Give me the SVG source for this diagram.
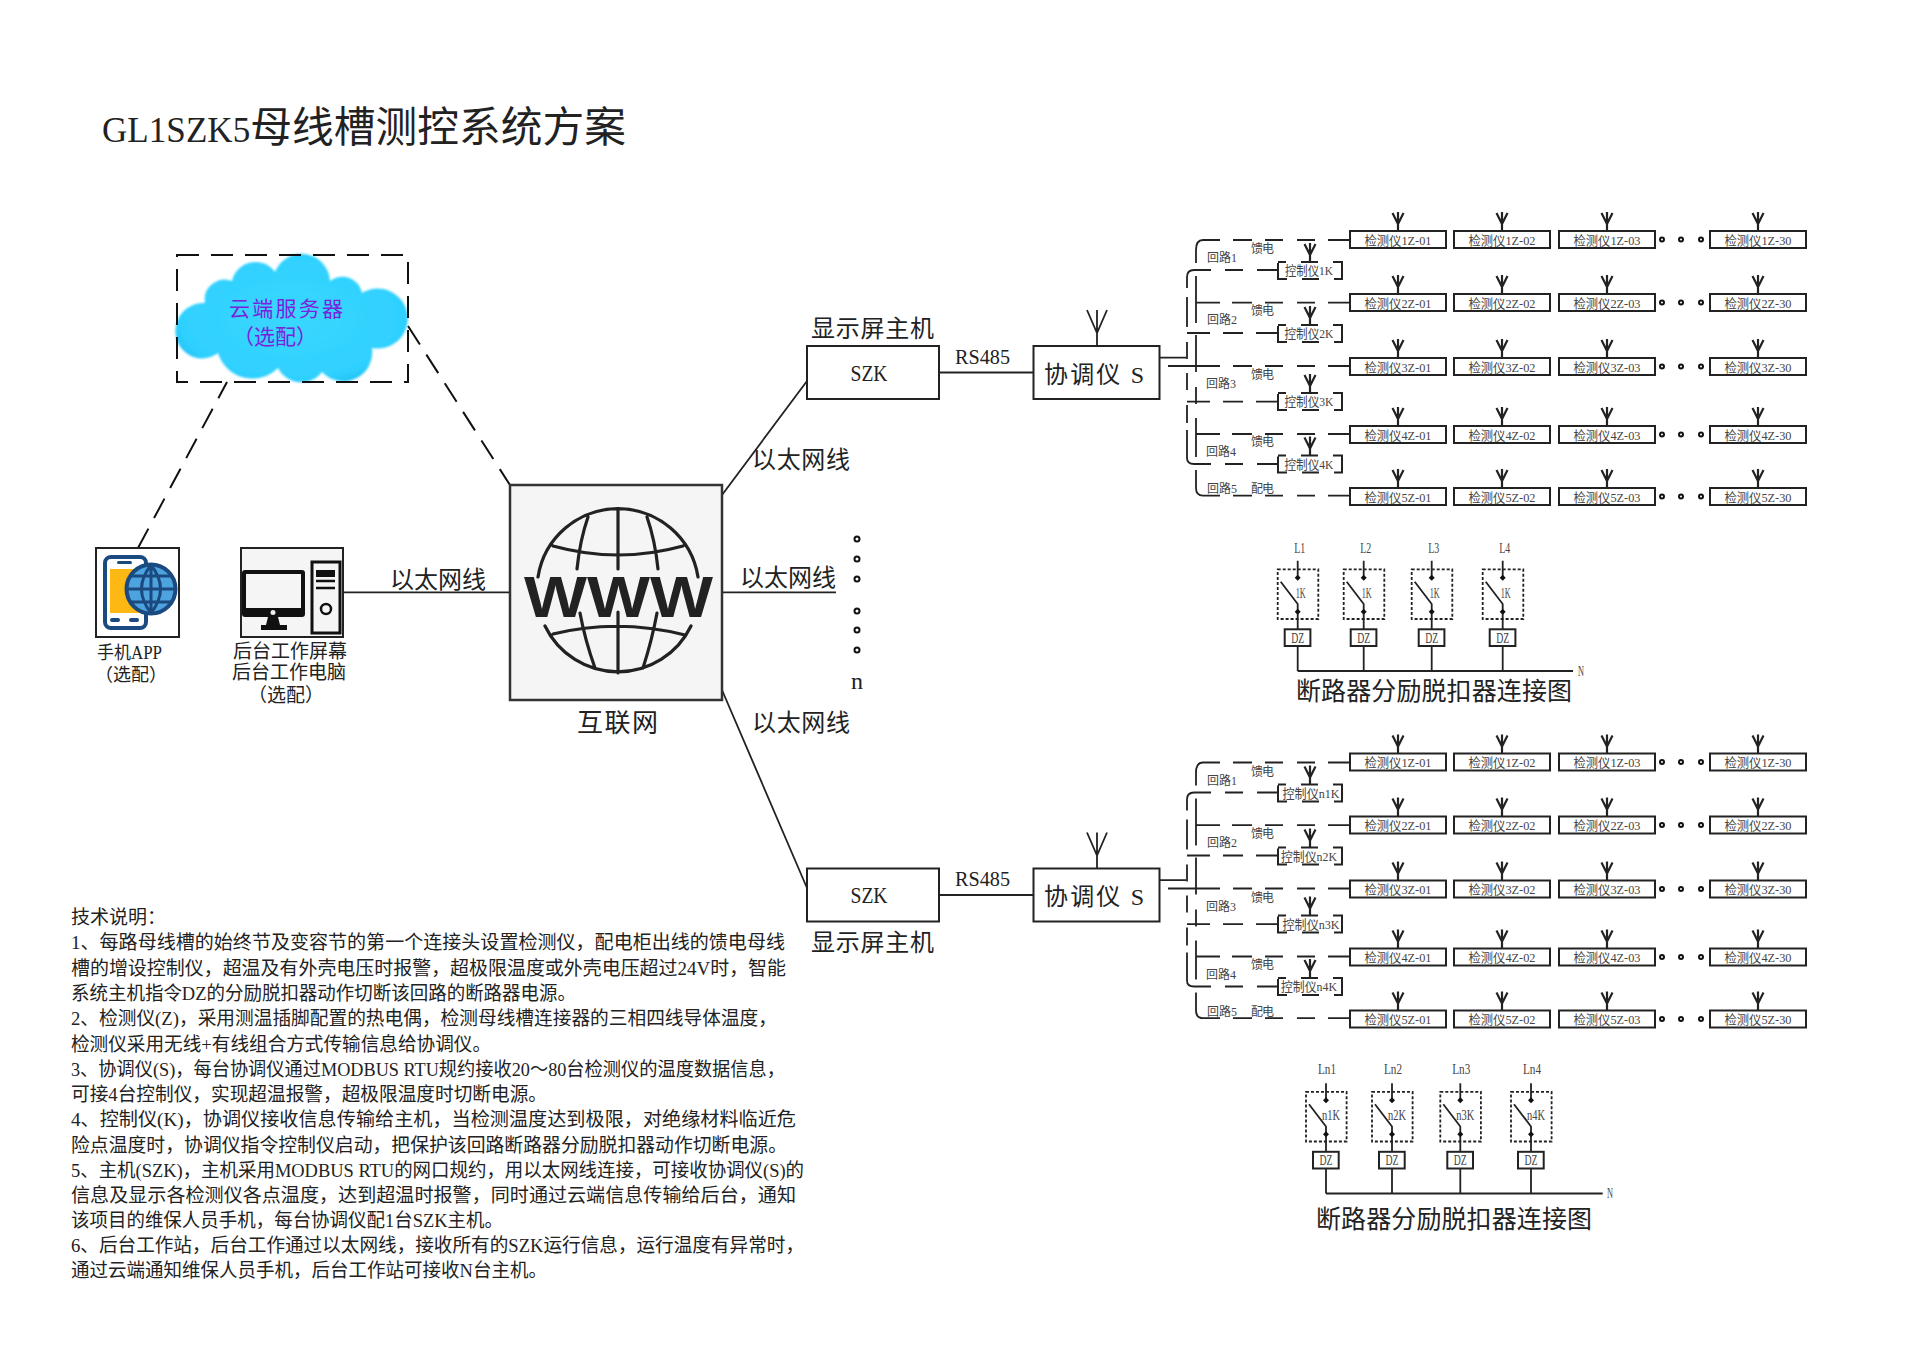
<svg xmlns="http://www.w3.org/2000/svg" width="1920" height="1358" viewBox="0 0 1920 1358">
<style>
text{font-family:"Liberation Serif","Noto Sans CJK SC",serif;fill:#222}
.m{text-anchor:middle}
.box{fill:#fff;stroke:#222;stroke-width:2}
.ln{fill:none;stroke:#222;stroke-width:1.8}
.th{fill:none;stroke:#222;stroke-width:2.2}
.dash{fill:none;stroke:#111;stroke-width:2;stroke-dasharray:22 12}
.d{font-size:13px;fill:#444;text-anchor:middle}
.c{font-size:13px;fill:#444;text-anchor:middle}
.l{font-size:12px;fill:#444}
.big{font-size:24px}
.t{font-size:19px;fill:#222}
.g{fill:none;stroke:#222;stroke-width:3.2;stroke-linecap:round}
.dot{fill:#fff;stroke:#111;stroke-width:2}
.brk{font-size:14px;fill:#444;text-anchor:middle}
.cl{font-size:21px;fill:#7a22e0}
</style>
<defs>
<radialGradient id="cg" cx="50%" cy="50%" r="60%"><stop offset="0" stop-color="#3ad8ff"/><stop offset=".8" stop-color="#2fd0ff"/><stop offset="1" stop-color="#18b8ee"/></radialGradient>
<filter id="soft" x="-5%" y="-5%" width="110%" height="110%"><feGaussianBlur stdDeviation="1"/></filter>
<g id="ant"><path class="th" d="M0 -19V0M-5.500 -18L0 -7L5.500 -18"/></g>
<g id="bigant"><path class="ln" d="M0 -36V0M-10 -36L0 -13L10 -36"/></g>
<g id="det"><use href="#ant" x="48" y="0"/><rect class="box" x="0" y="0" width="96" height="17"/></g>
<g id="ctl"><use href="#ant" x="32" y="0"/><rect x="0" y="0" width="64" height="17" fill="none" stroke="#222" stroke-width="2" stroke-dasharray="8 15 17 15 34 15 17 15 25"/></g>
<g id="dots"><circle class="dot" cx="1662" cy="0" r="2"/><circle class="dot" cx="1681" cy="0" r="2"/><circle class="dot" cx="1701" cy="0" r="2"/></g>
<g id="brk">
<path class="ln" d="M0 0V16M-17 21L0 43.300V68.600M0 85.300V110.300"/>
<rect x="-20" y="8.600" width="40.600" height="49.700" fill="none" stroke="#222" stroke-width="1.800" stroke-dasharray="3 2"/>
<path d="M0 14L3 17L0 20L-3 17ZM0 48L3 51L0 54L-3 51Z" fill="#111"/>
<rect class="box" x="-13" y="68.600" width="25.700" height="16.700"/>
<text class="brk" x="0" y="82" textLength="13" lengthAdjust="spacingAndGlyphs">DZ</text>
</g>
<path id="bus" class="ln" d="M1160 357.700H1186M1168 366H1220M1233 366H1252M1265 366H1283M1297 366H1315M1328 366H1350
M1196 263V250Q1196 240 1203 240H1220M1233 240H1252M1265 240H1283M1297 240H1315M1328 240H1350
M1187 288V277Q1187 270 1194 270H1211M1225 270H1243M1257 270H1278
M1187 297V327M1187 342V359M1187 373V390M1187 405V423M1187 430V458Q1187 464 1194 464H1211M1225 464H1243M1257 464H1278
M1196 276V323M1196 335V372M1196 387V404M1196 418V457M1196 470V488Q1196 495.700 1203 495.700H1220M1233 495.700H1252M1265 495.700H1283M1297 495.700H1315M1328 495.700H1350
M1196 302.700H1220M1232 302.700H1252M1265 302.700H1283M1297 302.700H1315M1328 302.700H1350
M1187 333H1210M1223 333H1243M1256 333H1278
M1187 401.700H1210M1223 401.700H1243M1256 401.700H1278
M1196 434H1220M1232 434H1252M1265 434H1283M1297 434H1315M1328 434H1350"/>
<g id="routes">
<text class="l" x="1207" y="262" textLength="30">回路1</text><text class="l" x="1207" y="324" textLength="30">回路2</text><text class="l" x="1206" y="388" textLength="30">回路3</text><text class="l" x="1206" y="456" textLength="30">回路4</text><text class="l" x="1207" y="493" textLength="30">回路5</text>
<text class="l" x="1251" y="253" textLength="23">馈电</text><text class="l" x="1251" y="315" textLength="23">馈电</text><text class="l" x="1251" y="379" textLength="23">馈电</text><text class="l" x="1251" y="446" textLength="23">馈电</text><text class="l" x="1251" y="493" textLength="23">配电</text>
</g>
</defs>
<rect width="1920" height="1358" fill="#fff"/>
<text id="title" x="102" y="142" font-size="41.700" textLength="524" lengthAdjust="spacing" letter-spacing="0"><tspan style="font-size:35px">GL1SZK5</tspan><tspan>母线槽测控系统方案</tspan></text>

<g id="connectors">
<line class="dash" x1="138" y1="548" x2="227" y2="382"/>
<line class="dash" x1="408" y1="326" x2="510" y2="485"/>
<path class="ln" d="M343 592.300H510M722 592.300H836M722 495L807 381M722 690L807 888M939 372.500H1033M939 895H1033"/>
<use href="#bus"/>
<use href="#bus" y="522.500"/>
<path class="ln" d="M1297.700 671H1573M1326 1193.500H1602.700"/>
</g>

<g id="cloud">
<path d="M185 352A28 28 0 0 1 205 303A20 20 0 0 1 232 281A24 24 0 0 1 275 272A28.500 28.500 0 0 1 330 281A20 20 0 0 1 362 293A30 30 0 1 1 372 348A29 29 0 0 1 322 372A26 26 0 0 1 278 368A36 36 0 0 1 218 353A26 26 0 0 1 185 352Z" fill="url(#cg)" filter="url(#soft)"/>
<rect class="dash" x="177" y="255" width="231" height="127" stroke-dasharray="18 10"/>
<text class="cl" x="229" y="316" textLength="114">云端服务器</text>
<text class="cl m" x="275" y="344">（选配）</text>
</g>

<g id="phone">
<rect class="box" x="96" y="548" width="83" height="89"/>
<rect x="105" y="557" width="41" height="71" rx="6" fill="#fff" stroke="#1a4a80" stroke-width="4"/>
<rect x="110" y="569" width="34" height="44" fill="#fdb813"/>
<rect x="117" y="561" width="15" height="3" rx="1.500" fill="#1a4a80"/>
<rect x="110" y="618" width="10" height="4" rx="2" fill="#1a4a80"/><rect x="129" y="618" width="10" height="4" rx="2" fill="#1a4a80"/>
<circle cx="151" cy="589" r="24.500" fill="#4da3dd" stroke="#1a4a80" stroke-width="4"/>
<path d="M127 589H175M151 565V613M131 576H171M131 602H171M151 565Q132 589 151 613M151 565Q170 589 151 613" fill="none" stroke="#1a4a80" stroke-width="3"/>
<text x="97" y="659" font-size="18" textLength="65" lengthAdjust="spacingAndGlyphs">手机APP</text>
<text class="m" x="131" y="681" font-size="18">（选配）</text>
</g>

<g id="pc">
<rect x="241" y="548" width="102" height="89" fill="#f5f5f5" stroke="#222" stroke-width="2"/>
<rect x="242" y="570" width="63" height="47" rx="3" fill="#111"/>
<rect x="246" y="574" width="55" height="34" fill="#f5f5f5"/>
<circle cx="273" cy="612.500" r="2.500" fill="#eee"/>
<path d="M268 617H278L280 625H287V630H261V625H266Z" fill="#111"/>
<rect x="312" y="562" width="28" height="71" fill="#f5f5f5" stroke="#111" stroke-width="3"/>
<rect x="316" y="570" width="19" height="7" fill="#111"/>
<path d="M316 581H335M316 588H335" stroke="#111" stroke-width="2.500"/>
<circle cx="326" cy="609" r="5" fill="#f5f5f5" stroke="#111" stroke-width="2.500"/>
<text x="233" y="658" font-size="19" textLength="114">后台工作屏幕</text>
<text x="232" y="679" font-size="19" textLength="114">后台工作电脑</text>
<text class="m" x="286" y="702" font-size="19">（选配）</text>
</g>

<g id="internet">
<rect x="510" y="485" width="212" height="215" fill="#f5f5f5" stroke="#333" stroke-width="2.500"/>
<path class="g" d="M538 577A81 81 0 0 1 698 577M545 626A81 81 0 0 0 691 626M553 546Q618 564 683 546M553 634Q618 618 685 635M618 510V569M618 612V673M588 517Q580 540 577 569M647 517Q655 540 658 569M580 613Q585 640 595 668M657 613Q652 640 643 668"/>
<text x="524" y="617" font-size="57" font-weight="bold" textLength="189" lengthAdjust="spacingAndGlyphs" style='font-family:"Liberation Sans",sans-serif;fill:#222'>WWW</text>
<text x="577" y="732" font-size="26" textLength="81">互联网</text>
</g>

<g id="eth-labels">
<text class="big" x="390" y="588" textLength="96">以太网线</text>
<text class="big" x="740" y="586" textLength="96">以太网线</text>
<text class="big" x="752" y="468" textLength="98">以太网线</text>
<text class="big" x="752" y="731" textLength="98">以太网线</text>
</g>
<g id="more">
<circle class="dot" cx="857" cy="539" r="2.500"/><circle class="dot" cx="857" cy="559" r="2.500"/><circle class="dot" cx="857" cy="579" r="2.500"/><circle class="dot" cx="857" cy="611" r="2.500"/><circle class="dot" cx="857" cy="630" r="2.500"/><circle class="dot" cx="857" cy="650" r="2.500"/>
<text class="m" x="857" y="689" font-size="24">n</text>
</g>

<g id="host-a">
<rect class="box" x="807" y="346" width="132" height="53"/>
<text class="m" x="869" y="381" font-size="24" textLength="37" lengthAdjust="spacingAndGlyphs">SZK</text>
<text class="big" x="811" y="337" textLength="123">显示屏主机</text>
<text x="955" y="364" font-size="21" textLength="55" lengthAdjust="spacingAndGlyphs">RS485</text>
</g>
<g id="coord-a">
<use href="#bigant" x="1097" y="346"/>
<rect class="box" x="1033.500" y="346" width="126" height="53"/>
<text x="1044" y="383" font-size="24" textLength="100" xml:space="preserve">协调仪 S</text>
</g>
<g id="host-b">
<rect class="box" x="807" y="868.500" width="132" height="53"/>
<text class="m" x="869" y="903" font-size="24" textLength="37" lengthAdjust="spacingAndGlyphs">SZK</text>
<text class="big" x="811" y="951" textLength="123">显示屏主机</text>
<text x="955" y="886" font-size="21" textLength="55" lengthAdjust="spacingAndGlyphs">RS485</text>
</g>
<g id="coord-b">
<use href="#bigant" x="1097" y="868.500"/>
<rect class="box" x="1033.500" y="868.500" width="126" height="53"/>
<text x="1044" y="905" font-size="24" textLength="100" xml:space="preserve">协调仪 S</text>
</g>

<use href="#routes"/>
<use href="#routes" y="522.500"/>

<g id="dots-a"><use href="#dots" y="239.500"/><use href="#dots" y="302.500"/><use href="#dots" y="366.500"/><use href="#dots" y="434.500"/><use href="#dots" y="496.500"/></g>
<g id="dots-b"><use href="#dots" y="762"/><use href="#dots" y="825"/><use href="#dots" y="889"/><use href="#dots" y="957"/><use href="#dots" y="1019"/></g>

<g id="k1" transform="translate(1278 262)"><use href="#ctl"/><text class="c" x="31" y="13" textLength="48" lengthAdjust="spacingAndGlyphs">控制仪1K</text></g>
<g id="k2" transform="translate(1278 325)"><use href="#ctl"/><text class="c" x="31" y="13" textLength="49" lengthAdjust="spacingAndGlyphs">控制仪2K</text></g>
<g id="k3" transform="translate(1278 393)"><use href="#ctl"/><text class="c" x="31" y="13" textLength="49" lengthAdjust="spacingAndGlyphs">控制仪3K</text></g>
<g id="k4" transform="translate(1278 455.500)"><use href="#ctl"/><text class="c" x="31" y="13" textLength="49" lengthAdjust="spacingAndGlyphs">控制仪4K</text></g>
<g id="kn1" transform="translate(1278 784.500)"><use href="#ctl"/><text class="c" x="33" y="13" textLength="57" lengthAdjust="spacingAndGlyphs">控制仪n1K</text></g>
<g id="kn2" transform="translate(1278 847.500)"><use href="#ctl"/><text class="c" x="31" y="13" textLength="56" lengthAdjust="spacingAndGlyphs">控制仪n2K</text></g>
<g id="kn3" transform="translate(1278 915.500)"><use href="#ctl"/><text class="c" x="33" y="13" textLength="57" lengthAdjust="spacingAndGlyphs">控制仪n3K</text></g>
<g id="kn4" transform="translate(1278 978)"><use href="#ctl"/><text class="c" x="31" y="13" textLength="56" lengthAdjust="spacingAndGlyphs">控制仪n4K</text></g>

<g id="a1z01" transform="translate(1350 231)"><use href="#det"/><text class="d" x="48" y="13.500" textLength="67" lengthAdjust="spacingAndGlyphs">检测仪1Z-01</text></g>
<g id="a1z02" transform="translate(1454 231)"><use href="#det"/><text class="d" x="48" y="13.500" textLength="67" lengthAdjust="spacingAndGlyphs">检测仪1Z-02</text></g>
<g id="a1z03" transform="translate(1559 231)"><use href="#det"/><text class="d" x="48" y="13.500" textLength="67" lengthAdjust="spacingAndGlyphs">检测仪1Z-03</text></g>
<g id="a1z30" transform="translate(1710 231)"><use href="#det"/><text class="d" x="48" y="13.500" textLength="67" lengthAdjust="spacingAndGlyphs">检测仪1Z-30</text></g>
<g id="a2z01" transform="translate(1350 294)"><use href="#det"/><text class="d" x="48" y="13.500" textLength="67" lengthAdjust="spacingAndGlyphs">检测仪2Z-01</text></g>
<g id="a2z02" transform="translate(1454 294)"><use href="#det"/><text class="d" x="48" y="13.500" textLength="67" lengthAdjust="spacingAndGlyphs">检测仪2Z-02</text></g>
<g id="a2z03" transform="translate(1559 294)"><use href="#det"/><text class="d" x="48" y="13.500" textLength="67" lengthAdjust="spacingAndGlyphs">检测仪2Z-03</text></g>
<g id="a2z30" transform="translate(1710 294)"><use href="#det"/><text class="d" x="48" y="13.500" textLength="67" lengthAdjust="spacingAndGlyphs">检测仪2Z-30</text></g>
<g id="a3z01" transform="translate(1350 358)"><use href="#det"/><text class="d" x="48" y="13.500" textLength="67" lengthAdjust="spacingAndGlyphs">检测仪3Z-01</text></g>
<g id="a3z02" transform="translate(1454 358)"><use href="#det"/><text class="d" x="48" y="13.500" textLength="67" lengthAdjust="spacingAndGlyphs">检测仪3Z-02</text></g>
<g id="a3z03" transform="translate(1559 358)"><use href="#det"/><text class="d" x="48" y="13.500" textLength="67" lengthAdjust="spacingAndGlyphs">检测仪3Z-03</text></g>
<g id="a3z30" transform="translate(1710 358)"><use href="#det"/><text class="d" x="48" y="13.500" textLength="67" lengthAdjust="spacingAndGlyphs">检测仪3Z-30</text></g>
<g id="a4z01" transform="translate(1350 426)"><use href="#det"/><text class="d" x="48" y="13.500" textLength="67" lengthAdjust="spacingAndGlyphs">检测仪4Z-01</text></g>
<g id="a4z02" transform="translate(1454 426)"><use href="#det"/><text class="d" x="48" y="13.500" textLength="67" lengthAdjust="spacingAndGlyphs">检测仪4Z-02</text></g>
<g id="a4z03" transform="translate(1559 426)"><use href="#det"/><text class="d" x="48" y="13.500" textLength="67" lengthAdjust="spacingAndGlyphs">检测仪4Z-03</text></g>
<g id="a4z30" transform="translate(1710 426)"><use href="#det"/><text class="d" x="48" y="13.500" textLength="67" lengthAdjust="spacingAndGlyphs">检测仪4Z-30</text></g>
<g id="a5z01" transform="translate(1350 488)"><use href="#det"/><text class="d" x="48" y="13.500" textLength="67" lengthAdjust="spacingAndGlyphs">检测仪5Z-01</text></g>
<g id="a5z02" transform="translate(1454 488)"><use href="#det"/><text class="d" x="48" y="13.500" textLength="67" lengthAdjust="spacingAndGlyphs">检测仪5Z-02</text></g>
<g id="a5z03" transform="translate(1559 488)"><use href="#det"/><text class="d" x="48" y="13.500" textLength="67" lengthAdjust="spacingAndGlyphs">检测仪5Z-03</text></g>
<g id="a5z30" transform="translate(1710 488)"><use href="#det"/><text class="d" x="48" y="13.500" textLength="67" lengthAdjust="spacingAndGlyphs">检测仪5Z-30</text></g>

<g id="b1z01" transform="translate(1350 753.500)"><use href="#det"/><text class="d" x="48" y="13.500" textLength="67" lengthAdjust="spacingAndGlyphs">检测仪1Z-01</text></g>
<g id="b1z02" transform="translate(1454 753.500)"><use href="#det"/><text class="d" x="48" y="13.500" textLength="67" lengthAdjust="spacingAndGlyphs">检测仪1Z-02</text></g>
<g id="b1z03" transform="translate(1559 753.500)"><use href="#det"/><text class="d" x="48" y="13.500" textLength="67" lengthAdjust="spacingAndGlyphs">检测仪1Z-03</text></g>
<g id="b1z30" transform="translate(1710 753.500)"><use href="#det"/><text class="d" x="48" y="13.500" textLength="67" lengthAdjust="spacingAndGlyphs">检测仪1Z-30</text></g>
<g id="b2z01" transform="translate(1350 816.500)"><use href="#det"/><text class="d" x="48" y="13.500" textLength="67" lengthAdjust="spacingAndGlyphs">检测仪2Z-01</text></g>
<g id="b2z02" transform="translate(1454 816.500)"><use href="#det"/><text class="d" x="48" y="13.500" textLength="67" lengthAdjust="spacingAndGlyphs">检测仪2Z-02</text></g>
<g id="b2z03" transform="translate(1559 816.500)"><use href="#det"/><text class="d" x="48" y="13.500" textLength="67" lengthAdjust="spacingAndGlyphs">检测仪2Z-03</text></g>
<g id="b2z30" transform="translate(1710 816.500)"><use href="#det"/><text class="d" x="48" y="13.500" textLength="67" lengthAdjust="spacingAndGlyphs">检测仪2Z-30</text></g>
<g id="b3z01" transform="translate(1350 880.500)"><use href="#det"/><text class="d" x="48" y="13.500" textLength="67" lengthAdjust="spacingAndGlyphs">检测仪3Z-01</text></g>
<g id="b3z02" transform="translate(1454 880.500)"><use href="#det"/><text class="d" x="48" y="13.500" textLength="67" lengthAdjust="spacingAndGlyphs">检测仪3Z-02</text></g>
<g id="b3z03" transform="translate(1559 880.500)"><use href="#det"/><text class="d" x="48" y="13.500" textLength="67" lengthAdjust="spacingAndGlyphs">检测仪3Z-03</text></g>
<g id="b3z30" transform="translate(1710 880.500)"><use href="#det"/><text class="d" x="48" y="13.500" textLength="67" lengthAdjust="spacingAndGlyphs">检测仪3Z-30</text></g>
<g id="b4z01" transform="translate(1350 948.500)"><use href="#det"/><text class="d" x="48" y="13.500" textLength="67" lengthAdjust="spacingAndGlyphs">检测仪4Z-01</text></g>
<g id="b4z02" transform="translate(1454 948.500)"><use href="#det"/><text class="d" x="48" y="13.500" textLength="67" lengthAdjust="spacingAndGlyphs">检测仪4Z-02</text></g>
<g id="b4z03" transform="translate(1559 948.500)"><use href="#det"/><text class="d" x="48" y="13.500" textLength="67" lengthAdjust="spacingAndGlyphs">检测仪4Z-03</text></g>
<g id="b4z30" transform="translate(1710 948.500)"><use href="#det"/><text class="d" x="48" y="13.500" textLength="67" lengthAdjust="spacingAndGlyphs">检测仪4Z-30</text></g>
<g id="b5z01" transform="translate(1350 1010.500)"><use href="#det"/><text class="d" x="48" y="13.500" textLength="67" lengthAdjust="spacingAndGlyphs">检测仪5Z-01</text></g>
<g id="b5z02" transform="translate(1454 1010.500)"><use href="#det"/><text class="d" x="48" y="13.500" textLength="67" lengthAdjust="spacingAndGlyphs">检测仪5Z-02</text></g>
<g id="b5z03" transform="translate(1559 1010.500)"><use href="#det"/><text class="d" x="48" y="13.500" textLength="67" lengthAdjust="spacingAndGlyphs">检测仪5Z-03</text></g>
<g id="b5z30" transform="translate(1710 1010.500)"><use href="#det"/><text class="d" x="48" y="13.500" textLength="67" lengthAdjust="spacingAndGlyphs">检测仪5Z-30</text></g>

<g id="breaker-a">
<g id="br1" transform="translate(1297.700 560.700)"><use href="#brk"/><text class="brk" x="3" y="37" textLength="10" lengthAdjust="spacingAndGlyphs">1K</text><text class="brk" x="2" y="-8" textLength="11" lengthAdjust="spacingAndGlyphs">L1</text></g>
<g id="br2" transform="translate(1363.700 560.700)"><use href="#brk"/><text class="brk" x="3" y="37" textLength="10" lengthAdjust="spacingAndGlyphs">1K</text><text class="brk" x="2" y="-8" textLength="11" lengthAdjust="spacingAndGlyphs">L2</text></g>
<g id="br3" transform="translate(1431.700 560.700)"><use href="#brk"/><text class="brk" x="3" y="37" textLength="10" lengthAdjust="spacingAndGlyphs">1K</text><text class="brk" x="2" y="-8" textLength="11" lengthAdjust="spacingAndGlyphs">L3</text></g>
<g id="br4" transform="translate(1502.700 560.700)"><use href="#brk"/><text class="brk" x="3" y="37" textLength="10" lengthAdjust="spacingAndGlyphs">1K</text><text class="brk" x="2" y="-8" textLength="11" lengthAdjust="spacingAndGlyphs">L4</text></g>
<text x="1578" y="676" font-size="14" textLength="6" lengthAdjust="spacingAndGlyphs" style="fill:#444">N</text>
<text x="1296" y="700" font-size="25" textLength="276">断路器分励脱扣器连接图</text>
</g>
<g id="breaker-b">
<g id="brn1" transform="translate(1326 1083.200)"><use href="#brk"/><text class="brk" x="5" y="37" textLength="18" lengthAdjust="spacingAndGlyphs">n1K</text><text class="brk" x="1" y="-9" textLength="18" lengthAdjust="spacingAndGlyphs">Ln1</text></g>
<g id="brn2" transform="translate(1392 1083.200)"><use href="#brk"/><text class="brk" x="5" y="37" textLength="18" lengthAdjust="spacingAndGlyphs">n2K</text><text class="brk" x="1" y="-9" textLength="18" lengthAdjust="spacingAndGlyphs">Ln2</text></g>
<g id="brn3" transform="translate(1460.300 1083.200)"><use href="#brk"/><text class="brk" x="5" y="37" textLength="18" lengthAdjust="spacingAndGlyphs">n3K</text><text class="brk" x="1" y="-9" textLength="18" lengthAdjust="spacingAndGlyphs">Ln3</text></g>
<g id="brn4" transform="translate(1531 1083.200)"><use href="#brk"/><text class="brk" x="5" y="37" textLength="18" lengthAdjust="spacingAndGlyphs">n4K</text><text class="brk" x="1" y="-9" textLength="18" lengthAdjust="spacingAndGlyphs">Ln4</text></g>
<text x="1607" y="1198" font-size="14" textLength="6" lengthAdjust="spacingAndGlyphs" style="fill:#444">N</text>
<text x="1316" y="1228" font-size="25" textLength="276">断路器分励脱扣器连接图</text>
</g>

<g id="notes" transform="translate(0 1)">
<text class="t" x="71" y="923">技术说明：</text>
<text class="t" x="71" y="948" textLength="714" lengthAdjust="spacingAndGlyphs">1、每路母线槽的始终节及变容节的第一个连接头设置检测仪，配电柜出线的馈电母线</text>
<text class="t" x="71" y="973.500" textLength="715" lengthAdjust="spacingAndGlyphs">槽的增设控制仪，超温及有外壳电压时报警，超极限温度或外壳电压超过24V时，智能</text>
<text class="t" x="71" y="999" textLength="505" lengthAdjust="spacingAndGlyphs">系统主机指令DZ的分励脱扣器动作切断该回路的断路器电源。</text>
<text class="t" x="71" y="1024" textLength="706" lengthAdjust="spacingAndGlyphs">2、检测仪(Z)，采用测温插脚配置的热电偶，检测母线槽连接器的三相四线导体温度，</text>
<text class="t" x="71" y="1049.500" textLength="420" lengthAdjust="spacingAndGlyphs">检测仪采用无线+有线组合方式传输信息给协调仪。</text>
<text class="t" x="71" y="1074.500" textLength="714" lengthAdjust="spacingAndGlyphs">3、协调仪(S)，每台协调仪通过MODBUS RTU规约接收20～80台检测仪的温度数据信息，</text>
<text class="t" x="71" y="1100" textLength="476" lengthAdjust="spacingAndGlyphs">可接4台控制仪，实现超温报警，超极限温度时切断电源。</text>
<text class="t" x="71" y="1125" textLength="725" lengthAdjust="spacingAndGlyphs">4、控制仪(K)，协调仪接收信息传输给主机，当检测温度达到极限，对绝缘材料临近危</text>
<text class="t" x="71" y="1150.500" textLength="716" lengthAdjust="spacingAndGlyphs">险点温度时，协调仪指令控制仪启动，把保护该回路断路器分励脱扣器动作切断电源。</text>
<text class="t" x="71" y="1175.500" textLength="733" lengthAdjust="spacingAndGlyphs">5、主机(SZK)，主机采用MODBUS RTU的网口规约，用以太网线连接，可接收协调仪(S)的</text>
<text class="t" x="71" y="1201" textLength="725" lengthAdjust="spacingAndGlyphs">信息及显示各检测仪各点温度，达到超温时报警，同时通过云端信息传输给后台，通知</text>
<text class="t" x="71" y="1226" textLength="432" lengthAdjust="spacingAndGlyphs">该项目的维保人员手机，每台协调仪配1台SZK主机。</text>
<text class="t" x="71" y="1251" textLength="733" lengthAdjust="spacingAndGlyphs">6、后台工作站，后台工作通过以太网线，接收所有的SZK运行信息，运行温度有异常时，</text>
<text class="t" x="71" y="1276" textLength="476" lengthAdjust="spacingAndGlyphs">通过云端通知维保人员手机，后台工作站可接收N台主机。</text>
</g>
</svg>
